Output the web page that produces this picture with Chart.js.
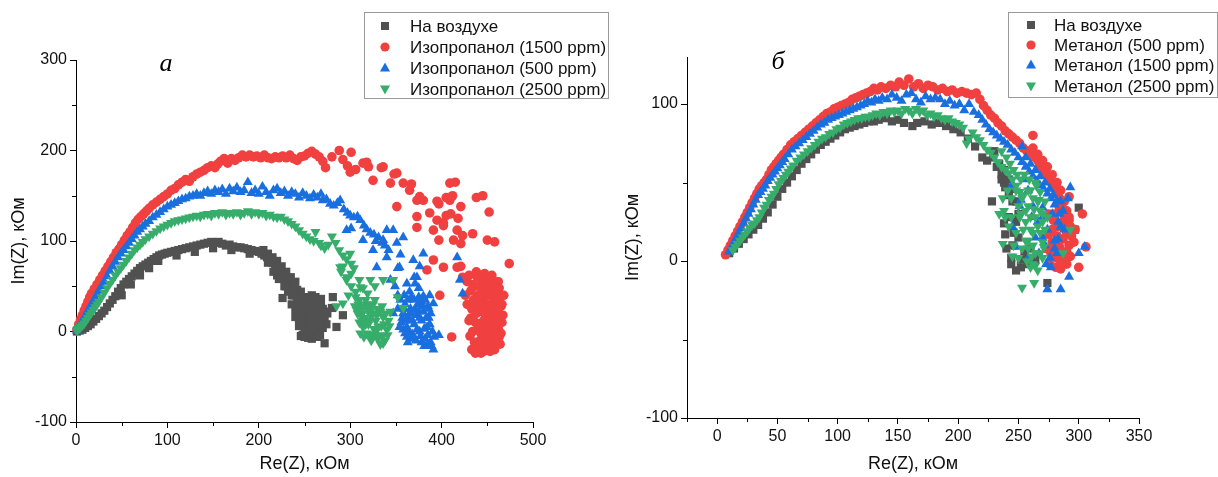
<!DOCTYPE html>
<html>
<head>
<meta charset="utf-8">
<script src="https://cdn.jsdelivr.net/npm/chart.js@4.4.0/dist/chart.umd.min.js"></script>
<style>
  body { margin: 0; background: #fff; }
  #wrap { position: relative; width: 1218px; height: 477px; }
  canvas { position: absolute; top: 0; }
  #left { left: 0; }
  #right { left: 609px; }
</style>
</head>
<body>
<div id="wrap">
  <canvas id="left" width="609" height="477"></canvas>
  <canvas id="right" width="609" height="477"></canvas>
</div>
<script>
// series names (legend order)
const leftLabels = ['На воздухе', 'Изопропанол (1500 ppm)', 'Изопропанол (500 ppm)', 'Изопропанол (2500 ppm)']
const rightLabels = ['На воздухе', 'Метанол (500 ppm)', 'Метанол (1500 ppm)', 'Метанол (2500 ppm)']
const axisX = 'Re(Z), кОм'
const axisY = 'Im(Z), кОм'

// axis ranges [min, max, step, labelled every]
const leftXRange = [0, 500, 50, 100]
const leftYRange = [-100, 300, 50, 100]
const rightXRange = [-25, 350, 25, 50]
const rightYRange = [-100, 130, 50, 100]

// ---- chart a: [Re, Im] in kOhm ----
const airLeft = [[1,0],[4,1],[7,2],[10,4],[13,6],[16,8],[19,11],[22,14],[25,17],[28,20],[31,23],[34,27],[37,31],[40,35],[43,39],[46,44],[49,48],[52,52],[55,55],[58,58],[61,61],[64,64],[67,67],[70,70],[73,72],[76,74],[79,76],[82,78],[85,80],[88,82],[91,84],[94,85],[97,86],[100,87],[104,88],[108,89],[112,90],[116,91],[120,92],[124,93],[128,94],[132,95],[136,96],[140,97],[144,98],[148,99],[152,98],[156,99],[160,97],[164,95],[168,96],[172,94],[176,93],[180,93],[184,92],[188,91],[192,90],[196,89],[200,88],[203,86],[206,84],[209,82],[212,79],[215,76],[218,73],[221,69],[224,65],[227,61],[230,58],[233,55],[236,52],[239,49],[242,46],[245,41],[248,36],[250,32],[252,28],[254,24],[255,20],[256,16],[257,12],[258,8],[259,4],[260,0],
  [50,40],[60,52],[70,62],[80,70],[90,78],[110,84],[130,88],[150,92],[170,90],[190,86],[210,76],[220,62],[230,50],[240,40],
  [205,90],[210,86],[215,82],[220,78],[225,72],[230,66],[235,60],[240,55],[228,50],[222,58],[216,66],[232,44],[236,40],
  [245,22],[247,30],[249,12],[251,3],[253,-3],[256,-5],[259,-1],[262,4],[264,12],[266,20],[268,28],[262,25],[258,32],[254,18],[264,32],[270,25],[272,14],[270,4],[267,-4],[261,-6],[257,8],[248,-4],[244,14],[252,10],[260,16],[266,-2],[250,20],[226,37],[240,25],[240,16],[281,38],[280,26],[292,18],[285,5],[272,-13],[263,-3],[275,20],[274,8],[246,-5],[255,0],[260,10],[268,36],
  [238,40],[242,35],[246,44],[250,38],[254,36],[258,40],[262,38],[236,30],[244,28],[248,24],[252,16],[256,12],[260,2],[264,-6],[268,10],[270,16],[272,22],[266,8],[258,-8],[254,-7],[250,-6],[258,22],[262,18],[248,6],[244,6],[252,30],[256,27],[260,29],[266,30],[242,20],[246,12],[250,0],[254,4]]

const isoP1500 = [[1,2],[3,8],[5,13],[7,18],[9,23],[11,28],[13,33],[15,38],[17,42],[20,47],[23,52],[26,57],[29,62],[32,67],[35,72],[38,77],[41,82],[44,87],[47,91],[50,96],[53,101],[56,106],[59,110],[62,115],[65,120],[68,124],[71,127],[74,130],[77,133],[80,136],[84,140],[88,143],[92,146],[96,149],[100,152],[104,156],[108,158],[112,162],[116,165],[120,168],[124,166],[128,171],[132,174],[136,176],[140,178],[144,181],[148,183],[152,181],[155,185],[158,188],[162,191],[166,186],[170,191],[174,189],[178,192],[182,195],[186,193],[190,195],[194,193],[198,194],[202,192],[206,195],[210,192],[214,191],[218,193],[222,192],[226,194],[230,192],[234,195],[238,191],[242,189],[246,193],[250,194],[254,197],[258,199],[262,196],[266,193],[270,188],[273,181],[280,193],[288,200],[292,190],[297,183],[301,198],[300,176],[306,179],[314,186],[318,187],[320,182],[325,167],[334,181],[336,182],[344,164],[348,174],[351,175],[351,138],[358,164],[365,156],[367,163],[373,145],[376,149],[380,145],[373,127],[373,115],[387,131],[395,123],[391,112],[402,120],[384,68],[397,141],[397,101],[405,128],[410,130],[409,145],[409,164],[415,165],[421,138],[417,112],[413,101],[423,106],[421,97],[434,108],[438,148],[445,150],[452,132],[450,101],[458,99],[474,75],[391,79],[402,71],[417,71],[421,72],[398,40],[411,-6],[423,60],[395,144],[402,117],[412,150],[418,125],[405,148],
  [428,30],[430,12],[432,45],[433,25],[434,0],[435,35],[436,50],[437,10],[438,20],[439,60],[440,5],[440,40],[441,-20],[442,-10],[443,28],[444,22],[444,-18],[445,45],[446,12],[446,-22],[447,-5],[447,64],[448,55],[448,-12],[449,30],[450,18],[450,-20],[451,0],[452,40],[452,8],[453,-15],[454,25],[455,8],[455,62],[455,-16],[456,50],[456,-2],[457,35],[458,-8],[458,45],[459,15],[460,28],[460,-12],[461,45],[461,33],[462,3],[462,55],[463,20],[463,-6],[464,38],[465,-2],[466,30],[466,10],
  [426,40],[428,55],[430,62],[431,-5],[432,15],[434,52],[436,-12],[437,30],[438,66],[439,-16],[441,50],[442,8],[443,-2],[444,58],[445,35],[446,2],[447,20],[448,42],[449,-18],[450,50],[451,28],[452,-8],[453,58],[454,12],[455,45],[456,20],[457,-12],[458,5],[459,55],[460,38],[461,-4],[462,22],[463,48],[464,10],[465,28],[467,18],[468,40],[433,-20],[437,-24],[443,-24],[453,-22],[458,-20],[464,-14]]

const isoP500 = [[1,1],[3,5],[5,9],[7,12],[9,15],[11,19],[13,23],[15,26],[17,30],[19,33],[21,37],[23,41],[25,45],[28,50],[31,55],[34,61],[37,67],[40,72],[43,77],[46,82],[49,86],[52,90],[55,94],[58,98],[61,102],[64,106],[67,110],[70,113],[73,116],[76,119],[80,122],[84,126],[88,129],[92,132],[96,135],[100,138],[104,140],[108,142],[112,144],[116,146],[120,147],[124,149],[128,150],[132,152],[136,150],[140,153],[144,155],[148,152],[152,156],[156,154],[160,157],[164,152],[168,158],[172,155],[176,159],[180,154],[184,156],[188,165],[192,153],[196,156],[200,152],[204,160],[208,154],[212,150],[216,156],[220,158],[224,153],[228,155],[232,150],[236,154],[240,152],[244,148],[248,153],[252,150],[256,147],[260,151],[264,148],[268,152],[270,145],[274,146],[278,141],[282,139],[286,142],[289,145],[293,135],[296,112],[297,131],[300,128],[304,126],[308,127],[311,123],[314,101],[315,117],[318,113],[301,114],[322,109],[325,90],[326,107],[331,104],[336,101],[340,112],[347,112],[338,95],[342,90],[351,98],[358,104],[329,71],[340,82],[354,71],[369,79],[373,60],[362,53],[344,57],[347,20],[391,31],[417,82],[420,57],[423,42],[376,72],[380,86],[371,53],[349,50],[380,39],[358,2],[335,98],[352,70],[370,60],[375,48],[365,44],[328,100],[355,85],
  [352,40],[354,5],[356,10],[357,15],[358,20],[360,30],[360,-2],[362,5],[362,-6],[363,35],[364,15],[366,25],[366,-8],[368,-3],[368,12],[370,8],[370,35],[372,18],[372,-10],[374,30],[375,22],[376,0],[378,12],[378,33],[378,-12],[380,22],[381,3],[382,-8],[384,5],[384,-15],[385,28],[386,15],[387,40],[388,20],[388,-12],[390,0],[391,-20],[392,-6],[397,-4],
  [352,25],[355,35],[359,40],[361,12],[363,-12],[365,20],[367,38],[369,-6],[371,25],[373,2],[375,38],[377,-5],[379,28],[381,-16],[383,15],[385,-4],[387,8],[389,-16],[376,15],[370,20],[364,0],[382,35],[386,25],[359,25]]

const isoP2500 = [[1,1],[3,3],[5,5],[7,7],[9,9],[11,12],[13,15],[15,18],[17,21],[19,24],[21,27],[23,30],[25,33],[28,38],[31,43],[34,48],[37,53],[40,57],[43,62],[46,66],[49,70],[52,74],[55,78],[58,82],[61,86],[64,90],[67,93],[70,96],[73,99],[76,102],[80,105],[84,108],[88,111],[92,114],[96,116],[100,118],[104,120],[108,122],[112,123],[116,124],[120,125],[124,126],[128,127],[132,128],[136,127],[140,129],[144,130],[148,128],[152,131],[156,130],[160,132],[164,129],[168,131],[172,130],[176,132],[180,129],[184,131],[188,133],[192,130],[196,132],[200,130],[204,131],[208,128],[212,129],[216,127],[220,126],[224,127],[228,124],[232,122],[236,119],[240,116],[244,112],[248,108],[252,105],[256,102],[260,100],[262,110],[266,98],[268,95],[272,92],[276,96],[280,105],[284,98],[288,90],[289,71],[292,84],[296,80],[296,57],[300,86],[301,75],[304,70],[292,72],[301,64],[310,57],[301,50],[306,44],[292,31],[310,35],[311,49],[319,42],[322,57],[327,50],[336,57],[347,57],[352,38],[358,26],[314,48],[318,30],[322,22],[305,28],[285,28],[296,60],[290,66],[306,38],[312,18],[298,40],[307,24],
  [308,20],[310,10],[312,25],[313,12],[314,5],[315,28],[316,15],[318,-2],[320,8],[320,-3],[322,18],[324,-6],[325,30],[326,3],[328,12],[328,0],[330,25],[330,-8],[332,-4],[334,6],[335,28],[336,16],[336,-13],[338,-10],[340,2],[342,12],[344,22],
  [309,30],[311,-2],[313,20],[315,-6],[317,8],[319,25],[321,12],[323,-10],[325,20],[327,-4],[329,18],[331,5],[333,22],[335,-6],[337,8],[339,20],[341,-4],[343,6],[327,35],[317,35],[333,-14],[323,30]]

// ---- chart б ----
const airRight = [[10,5],[14,8],[18,11],[22,14],[26,17],[30,20],[34,23],[38,27],[42,31],[46,36],[50,41],[54,46],[58,50],[62,54],[66,58],[70,62],[74,65],[78,68],[82,71],[86,74],[90,76],[94,78],[98,80],[102,82],[106,84],[110,85],[114,86],[118,87],[122,88],[126,89],[130,89],[134,90],[140,91],[145,89],[150,90],[155,88],[162,86],[166,88],[172,89],[178,87],[184,88],[190,86],[196,84],[202,82],[208,78],[214,73],[220,66],[224,64],[229,66],[232,60],[236,55],[238,50],[239,47],[242,42],[245,38],[228,38],[242,28],[239,17],[245,10],[248,-6],[252,-4],[274,-14],[300,34],[297,20],[252,1],[258,-2],[264,1],[248,25],[250,15],[255,5],[260,8],[236,52],
  [230,70],[234,62],[238,58],[242,52],[246,46],[248,38],[250,30],[246,18],[244,2],[240,8],[238,24],[244,-2]]

const meth500 = [[7,4],[9,7],[11,10],[13,13],[15,16],[17,19],[19,22],[21,25],[23,28],[25,31],[27,34],[29,37],[31,40],[33,43],[35,46],[37,48],[39,50],[41,52],[43,55],[45,58],[47,60],[49,62],[51,64],[53,66],[55,68],[58,71],[61,74],[64,76],[67,78],[70,80],[73,82],[76,84],[79,86],[82,88],[85,90],[88,92],[91,94],[94,95],[97,97],[100,98],[103,99],[106,100],[109,101],[112,103],[115,104],[118,105],[121,106],[124,107],[127,108],[130,110],[133,109],[136,111],[140,110],[144,112],[148,111],[151,114],[155,112],[159,116],[163,111],[167,113],[171,110],[175,112],[179,111],[183,109],[187,110],[191,108],[195,109],[199,107],[203,108],[207,107],[211,106],[215,107],[218,103],[221,99],[224,96],[227,93],[230,91],[233,88],[236,86],[239,83],[242,81],[245,79],[248,77],[251,75],[254,72],[257,70],[260,68],[262,80],[264,66],[266,64],[268,61],[270,59],[272,57],[274,55],[276,52],[278,49],[280,46],[282,43],[284,40],[286,36],[287,31],[288,27],[289,22],[290,18],[292,41],[284,34],[292,26],[303,30],[306,9],[300,-4],[287,14],[293,3],[281,-4],[277,5],[284,9],[275,17],[279,26],[280,30],[283,22],[286,6],[289,0],[276,-2],[273,8],[290,-2],[296,12],[297,20],[278,12],[282,16],[285,-5],
  [262,72],[266,68],[270,64],[274,60],[278,55],[282,50],[285,45],[288,38],[290,32],[292,28],[293,22],[294,16],[292,10],[290,6],[288,2],[285,-2],[282,2],[280,8],[286,24],[284,14],[278,20],[275,30]]

const meth1500 = [[10,6],[12,9],[14,12],[16,15],[18,18],[20,21],[22,24],[24,27],[26,30],[28,33],[30,36],[32,39],[34,42],[36,44],[38,46],[40,48],[42,51],[44,53],[46,55],[48,57],[50,59],[52,61],[54,63],[56,65],[59,68],[62,71],[65,73],[68,75],[71,77],[74,79],[77,81],[80,83],[83,85],[86,87],[89,88],[92,90],[95,91],[98,92],[101,93],[104,94],[107,95],[110,96],[113,97],[116,98],[119,99],[122,100],[125,102],[128,101],[131,103],[134,102],[137,104],[141,103],[145,106],[149,104],[153,102],[157,106],[161,107],[165,103],[169,101],[173,105],[177,103],[181,104],[185,103],[189,100],[193,102],[197,99],[201,100],[205,96],[209,100],[213,95],[217,93],[220,90],[223,87],[226,84],[229,82],[232,80],[235,78],[238,76],[241,74],[244,71],[247,69],[250,66],[253,73],[253,63],[256,60],[259,57],[262,54],[265,51],[268,48],[271,46],[274,43],[277,40],[280,36],[293,47],[287,32],[274,20],[280,13],[267,5],[277,-4],[274,-18],[285,-18],[292,-10],[300,5],[305,9],[261,28],[252,39],[248,9],[283,25],[270,28],[264,15],[258,2],[272,10],[282,5],[288,20],[291,40],[278,30],[285,38],[245,22],[251,35],[245,49],[270,34],
  [256,66],[260,62],[264,58],[268,54],[272,50],[276,46],[279,42],[282,38],[284,30],[285,22],[283,14],[280,8],[276,2],[273,-2],[270,15],[266,25],[262,35],[258,45],[254,52]]

const meth2500 = [[13,7],[15,9],[17,11],[19,13],[21,15],[23,17],[25,19],[27,21],[29,23],[31,24],[33,26],[35,28],[37,31],[39,34],[41,36],[43,39],[45,41],[47,43],[49,46],[51,49],[53,51],[55,53],[57,55],[59,57],[61,59],[63,61],[66,64],[69,66],[72,68],[75,70],[78,72],[81,74],[84,76],[87,78],[90,79],[93,81],[96,82],[99,84],[102,85],[105,87],[108,88],[111,89],[114,90],[117,91],[120,91],[123,92],[126,92],[129,93],[132,94],[135,93],[138,95],[141,94],[144,96],[147,95],[150,96],[153,94],[156,97],[159,96],[162,94],[165,97],[168,95],[171,96],[174,93],[177,94],[180,92],[183,93],[186,91],[189,90],[192,91],[195,89],[198,88],[201,87],[204,85],[207,75],[209,78],[212,82],[215,79],[218,77],[221,74],[224,71],[227,69],[230,66],[233,63],[236,60],[239,58],[242,56],[245,52],[248,48],[251,44],[253,40],[252,30],[251,28],[239,28],[234,30],[237,11],[245,3],[253,-17],[263,-14],[258,13],[261,3],[264,-3],[268,18],[271,9],[293,20],[287,5],[248,18],[250,35],[254,42],[256,25],[258,35],[260,20],[262,10],[264,28],[266,38],[268,5],[270,25],[262,-2],[257,0],[253,8],[244,28],[260,45],[265,48],[256,13],[267,39],[270,30],[263,33],[259,52],[255,55],
  [254,20],[256,32],[258,8],[258,45],[260,28],[260,-4],[262,40],[262,18],[264,5],[264,50],[266,22],[266,-6],[268,32],[268,44],[270,12],[270,2],[272,20],[272,38],[274,28],[252,52],[249,55],[246,58],[243,62],[240,66],[236,70],[248,45],[244,40],[241,45],[237,40],[238,32],[242,22],[246,10],[250,2]]

// Origin-like palette
const colors = ['#515151', '#F14040', '#1A6FDF', '#37AD6B']
const styles = ['rect', 'circle', 'triangle', 'triangle']
const rotations = [0, 0, 0, 180]
const radii = [5.8, 4.8, 5.8, 5.8]

function toPts(arr) {
  return arr.map(p => ({ x: p[0], y: p[1] }))
}

function makeSets(labels, series) {
  return series.map((s, i) => ({
    label: labels[i],
    data: toPts(s),
    pointStyle: styles[i],
    rotation: rotations[i],
    pointRadius: radii[i],
    pointBorderWidth: 0,
    backgroundColor: colors[i],
    borderColor: colors[i],
    order: 4 - i, // green drawn last, on top
    clip: false
  }))
}

// legend box, panel letter, short minor ticks
const extras = {
  id: 'extras',
  afterDraw(chart, args, o) {
    const ctx = chart.ctx
    const area = chart.chartArea
    ctx.save()

    ctx.strokeStyle = '#000'
    ctx.lineWidth = 1
    chart.scales.x.ticks.forEach(t => {
      if (t.value % o.xMajor === 0) return
      const px = Math.round(chart.scales.x.getPixelForValue(t.value)) + 0.5
      ctx.beginPath(); ctx.moveTo(px, area.bottom); ctx.lineTo(px, area.bottom + 4); ctx.stroke()
    })
    chart.scales.y.ticks.forEach(t => {
      if (t.value % o.yMajor === 0) return
      const py = Math.round(chart.scales.y.getPixelForValue(t.value)) + 0.5
      ctx.beginPath(); ctx.moveTo(area.left, py); ctx.lineTo(area.left - 4, py); ctx.stroke()
    })

    ctx.font = 'italic 26px "Liberation Serif", "DejaVu Serif", serif'
    ctx.fillStyle = '#000'
    ctx.textAlign = 'center'
    ctx.textBaseline = 'middle'
    ctx.fillText(o.letter, o.letterX, o.letterY)

    ctx.strokeStyle = '#9a9a9a'
    ctx.strokeRect(o.box[0] + 0.5, o.box[1] + 0.5, o.box[2], o.box[3])

    ctx.font = '17px "Liberation Sans", Arial, sans-serif'
    ctx.textAlign = 'left'
    chart.data.datasets.forEach((ds, i) => {
      const y = o.rows[i]
      const x = o.markX
      ctx.fillStyle = colors[i]
      ctx.beginPath()
      if (i === 0) {
        ctx.rect(x - 4, y - 4, 8, 8)
      } else if (i === 1) {
        ctx.arc(x, y, 4.6, 0, Math.PI * 2)
      } else if (i === 2) {
        ctx.moveTo(x, y - 5.5); ctx.lineTo(x + 5, y + 3.5); ctx.lineTo(x - 5, y + 3.5)
      } else {
        ctx.moveTo(x, y + 5.5); ctx.lineTo(x + 5, y - 3.5); ctx.lineTo(x - 5, y - 3.5)
      }
      ctx.closePath()
      ctx.fill()
      ctx.fillStyle = '#111'
      ctx.fillText(ds.label, o.textX, y + 1)
    })
    ctx.restore()
  }
}

function axis(range, title, size, titlePad, isY) {
  return {
    type: 'linear',
    min: range[0],
    max: range[1],
    afterBuildTicks: a => { a.ticks = a.ticks.filter(t => t.value % range[2] === 0) },
    afterFit: s => { if (isY) s.width = size; else s.height = size },
    ticks: {
      stepSize: range[2],
      autoSkip: false,
      maxRotation: 0,
      padding: 3,
      color: '#111',
      font: { family: '"Liberation Sans", Arial, sans-serif', size: 16 },
      callback: v => (v % range[3] === 0 ? v : '')
    },
    grid: {
      drawOnChartArea: false,
      drawTicks: true,
      tickLength: 6,
      color: '#000',
      // minor ticks are drawn shorter by the plugin
      tickColor: c => (c.tick && c.tick.value % range[3] === 0 ? '#000' : 'rgba(0,0,0,0)')
    },
    border: { display: true, color: '#000', width: 1 },
    title: {
      display: true,
      text: title,
      color: '#111',
      font: { family: '"Liberation Sans", Arial, sans-serif', size: 18 },
      padding: titlePad
    }
  }
}

function makeChart(id, labels, series, xr, yr, lay, ex) {
  ex.xMajor = xr[3]
  ex.yMajor = yr[3]
  return new Chart(document.getElementById(id), {
    type: 'scatter',
    data: { datasets: makeSets(labels, series) },
    options: {
      responsive: false,
      animation: false,
      events: [],
      layout: { padding: lay.pad },
      scales: {
        x: axis(xr, axisX, lay.xh, { top: 0, bottom: 2 }, false),
        y: axis(yr, axisY, lay.yw, { top: lay.ytp, bottom: 0 }, true)
      },
      plugins: {
        legend: { display: false },
        tooltip: { enabled: false },
        extras: ex
      }
    },
    plugins: [extras]
  })
}

makeChart('left', leftLabels, [airLeft, isoP1500, isoP500, isoP2500], leftXRange, leftYRange,
  { pad: { left: 0, top: 60, right: 76, bottom: 0 }, xh: 55, yw: 76, ytp: 8 },
  { letter: 'a', letterX: 166, letterY: 64, box: [364, 12, 244, 86], rows: [26, 47, 68, 89], markX: 385, textX: 410 })

makeChart('right', rightLabels, [airRight, meth500, meth1500, meth2500], rightXRange, rightYRange,
  { pad: { left: 0, top: 57, right: 79, bottom: 0 }, xh: 59, yw: 78, ytp: 13 },
  { letter: 'б', letterX: 169, letterY: 62, box: [399, 12, 209, 85], rows: [25, 45, 65, 86], markX: 422, textX: 445 })
</script>
</body>
</html>
